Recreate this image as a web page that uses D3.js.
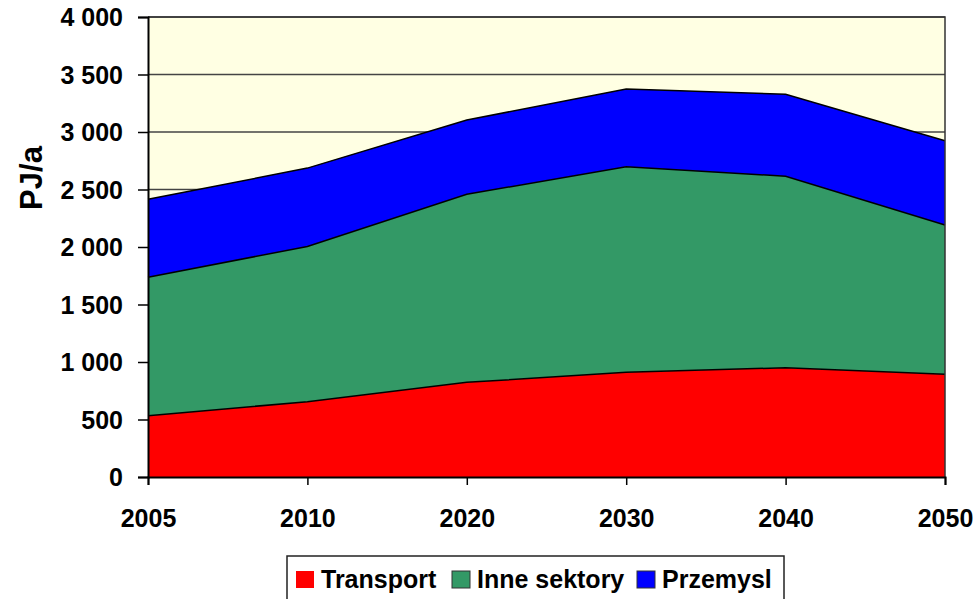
<!DOCTYPE html>
<html>
<head>
<meta charset="utf-8">
<script src="https://cdn.jsdelivr.net/npm/d3@7"></script>
<style>
  body { margin: 0; background: #fff; }
  text { font-family: "Liberation Sans", Arial, sans-serif; font-weight: bold; fill: #000; }
</style>
</head>
<body>
<svg id="chart" width="973" height="599"></svg>
<script>
// data
var years = ["2005", "2010", "2020", "2030", "2040", "2050"];
var transport = [533, 655, 823, 910, 950, 893];
var inneSektory = [1204, 1350, 1635, 1788, 1665, 1298];
var przemysl = [678, 681, 646, 676, 713, 733];
var seriesNames = ["Transport", "Inne sektory", "Przemysl"];
var seriesColors = ["#ff0000", "#339966", "#0000ff"];
var yTicks = [0, 500, 1000, 1500, 2000, 2500, 3000, 3500, 4000];

var svg = d3.select("#chart");
var plotLeft = 148, plotRight = 945, plotTop = 17, plotBottom = 477;

var rows = years.map(function (y, i) {
    return { year: y, "Transport": transport[i], "Inne sektory": inneSektory[i], "Przemysl": przemysl[i] };
});

var x = d3.scalePoint().domain(years).range([plotLeft, plotRight]);
var y = d3.scaleLinear().domain([0, 4000]).range([plotBottom, plotTop]);

// plot background
svg.append("rect")
    .attr("x", plotLeft).attr("y", plotTop)
    .attr("width", plotRight - plotLeft).attr("height", plotBottom - plotTop)
    .attr("fill", "#ffffe3");

// gridlines
svg.append("g").selectAll("line")
    .data(yTicks.slice(1))
    .enter().append("line")
    .attr("x1", plotLeft).attr("x2", plotRight)
    .attr("y1", function (d) { return y(d); })
    .attr("y2", function (d) { return y(d); })
    .attr("stroke", "#444").attr("stroke-width", 1.3);

var stack = d3.stack().keys(seriesNames)(rows);

var area = d3.area()
    .x(function (d) { return x(d.data.year); })
    .y0(function (d) { return y(d[0]); })
    .y1(function (d) { return y(d[1]); });

var topLine = d3.line()
    .x(function (d) { return x(d.data.year); })
    .y(function (d) { return y(d[1]); });

svg.append("g").selectAll("path")
    .data(stack)
    .enter().append("path")
    .attr("d", area)
    .attr("fill", function (d, i) { return seriesColors[i]; });

svg.append("g").selectAll("path")
    .data(stack)
    .enter().append("path")
    .attr("d", topLine)
    .attr("fill", "none")
    .attr("stroke", "#000")
    .attr("stroke-width", 1.5);

// plot border (top / right)
svg.append("path")
    .attr("d", "M" + plotLeft + "," + plotTop + "H" + plotRight + "V" + plotBottom)
    .attr("fill", "none")
    .attr("stroke", "#333").attr("stroke-width", 1.5);

// y axis
var yAxis = svg.append("g")
    .attr("transform", "translate(" + plotLeft + ",0)")
    .call(d3.axisLeft(y).tickValues(yTicks).tickSize(10).tickPadding(15)
        .tickFormat(function (d) { return d3.format(",")(d).replace(",", " "); }));
yAxis.select(".domain").attr("stroke", "#000").attr("stroke-width", 2);
yAxis.selectAll(".tick line").attr("stroke", "#000").attr("stroke-width", 1.5);
yAxis.selectAll("text")
    .style("font-size", "25px")
    .attr("dy", "0.35em");

// x axis
var xAxis = svg.append("g")
    .attr("transform", "translate(0," + plotBottom + ")")
    .call(d3.axisBottom(x).tickSize(8).tickPadding(42));
xAxis.select(".domain").attr("stroke", "#000").attr("stroke-width", 2);
xAxis.selectAll(".tick line").attr("stroke", "#000").attr("stroke-width", 1.5);
xAxis.selectAll("text")
    .style("font-size", "25px")
    .attr("dy", "0");

// y title
svg.append("text")
    .attr("transform", "translate(42,178) rotate(-90)")
    .attr("text-anchor", "middle")
    .style("font-size", "31px")
    .text("PJ/a");

// legend
var legend = svg.append("g");
legend.append("rect")
    .attr("x", 287).attr("y", 556)
    .attr("width", 497).attr("height", 60)
    .attr("fill", "#fff").attr("stroke", "#222").attr("stroke-width", 1.5);

var legendX = [296, 452, 637];
var items = legend.selectAll("g.item")
    .data(seriesNames)
    .enter().append("g").attr("class", "item")
    .attr("transform", function (d, i) { return "translate(" + legendX[i] + ",571)"; });
items.append("rect")
    .attr("width", 18).attr("height", 17)
    .attr("fill", function (d, i) { return seriesColors[i]; })
    .attr("stroke", function (d, i) { return i === 0 ? "none" : "#333"; })
    .attr("stroke-width", 1);
items.append("text")
    .attr("x", 25).attr("y", 17)
    .style("font-size", "25px")
    .text(function (d) { return d; });
</script>
</body>
</html>
